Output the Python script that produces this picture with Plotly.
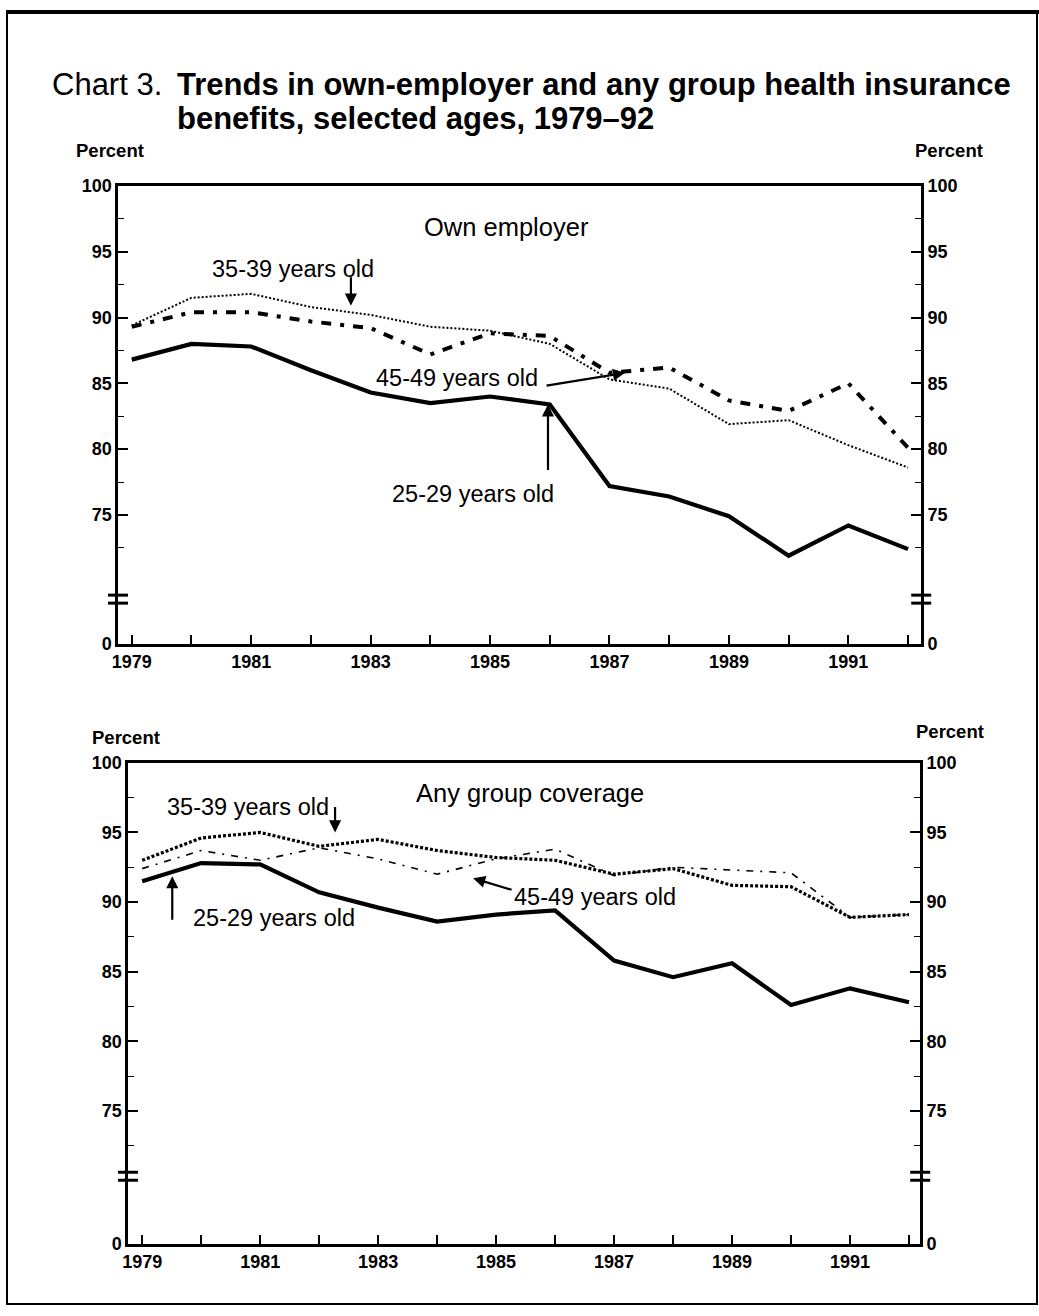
import plotly.graph_objects as go

# ---------------- data ----------------
years = list(range(1979, 1993))
label_years = [1979, 1981, 1983, 1985, 1987, 1989, 1991]
minor_years = [1980, 1982, 1984, 1986, 1988, 1990, 1992]

own_25_29 = [86.8, 88.0, 87.8, 86.0, 84.3, 83.5, 84.0, 83.4, 77.2, 76.4, 74.9, 71.9, 74.2, 72.4]
own_35_39 = [89.4, 91.5, 91.8, 90.8, 90.2, 89.3, 89.0, 88.0, 85.3, 84.6, 81.9, 82.2, 80.3, 78.6]
own_45_49 = [89.3, 90.4, 90.4, 89.7, 89.2, 87.2, 88.8, 88.6, 85.8, 86.2, 83.7, 82.9, 85.0, 80.1]

any_25_29 = [91.5, 92.8, 92.7, 90.7, 89.6, 88.6, 89.1, 89.4, 85.8, 84.6, 85.6, 82.6, 83.8, 82.8]
any_35_39 = [93.0, 94.6, 95.0, 94.0, 94.5, 93.7, 93.2, 93.0, 92.0, 92.4, 91.2, 91.1, 88.9, 89.1]
any_45_49 = [92.4, 93.7, 93.0, 93.9, 93.1, 92.0, 93.1, 93.8, 91.9, 92.5, 92.3, 92.1, 88.9, 89.1]

y_ticks_top = [65.2, 75, 80, 85, 90, 95, 100]
y_ticks_bot = [65.45, 75, 80, 85, 90, 95, 100]
y_ticktext = ["0", "75", "80", "85", "90", "95", "100"]
y_minor = [72.5, 77.5, 82.5, 87.5, 92.5, 97.5]

# ---------------- layout geometry (target picture pixels) ----------------
W, H = 1039, 1316
top_box = dict(l=118, r=921, t=185, b=643, xr=[1978.77, 1992.22], yr=[65.2, 100], brk=68.6)
bot_box = dict(l=128, r=920, t=762, b=1243, xr=[1978.76, 1992.19], yr=[65.45, 100], brk=70.3)

# small correction between page pixels and the photographed picture
SX, OX = 0.994, 6.0
SY, OY = 0.985, 9.0

def px(x):
    return ((x - OX) / SX) / W

def py(y):
    return 1 - ((y - OY) / SY) / H

FONT = "Liberation Sans, Arial, Helvetica, sans-serif"

fig = go.Figure()

def add_lines(xa, ya, s25, s35, s45, top):
    fig.add_trace(go.Scatter(x=years, y=s25, mode="lines", xaxis=xa, yaxis=ya,
                             line=dict(color="black", width=4.2), showlegend=False,
                             hoverinfo="skip"))
    if top:
        fig.add_trace(go.Scatter(x=years, y=s35, mode="lines", xaxis=xa, yaxis=ya,
                                 line=dict(color="black", width=2, dash="2px,2px"),
                                 showlegend=False, hoverinfo="skip"))
        fig.add_trace(go.Scatter(x=years, y=s45, mode="lines", xaxis=xa, yaxis=ya,
                                 line=dict(color="black", width=4, dash="10px,9px,4px,9px"),
                                 showlegend=False, hoverinfo="skip"))
    else:
        fig.add_trace(go.Scatter(x=years, y=s45, mode="lines", xaxis=xa, yaxis=ya,
                                 line=dict(color="black", width=1.6, dash="7px,7px,2px,7px"),
                                 showlegend=False, hoverinfo="skip"))
        fig.add_trace(go.Scatter(x=years, y=s35, mode="lines", xaxis=xa, yaxis=ya,
                                 line=dict(color="black", width=3.2, dash="3px,2px"),
                                 showlegend=False, hoverinfo="skip"))

add_lines("x", "y", own_25_29, own_35_39, own_45_49, True)
add_lines("x2", "y2", any_25_29, any_35_39, any_45_49, False)
# dummy traces so the right-hand axes are drawn
fig.add_trace(go.Scatter(x=[years[0]], y=[None], xaxis="x", yaxis="y3", showlegend=False, hoverinfo="skip"))
fig.add_trace(go.Scatter(x=[years[0]], y=[None], xaxis="x2", yaxis="y4", showlegend=False, hoverinfo="skip"))

tickfont = dict(family=FONT, size=18, color="black", weight="bold")

def xaxis_cfg(box, anchor):
    return dict(domain=[px(box["l"]), px(box["r"])], range=box["xr"], anchor=anchor,
                tickmode="array", tickvals=label_years, ticktext=[str(v) for v in label_years],
                ticks="inside", ticklen=9, tickwidth=1.5, tickcolor="black",
                minor=dict(tickmode="array", tickvals=minor_years, ticks="inside",
                           ticklen=9, tickwidth=1.5, tickcolor="black"),
                showline=True, linewidth=3, linecolor="black", mirror=True,
                showgrid=False, zeroline=False, tickfont=tickfont, fixedrange=True)

def yaxis_cfg(box, anchor, ticks, side="left", overlay=None):
    d = dict(domain=[py(box["b"]), py(box["t"])], range=box["yr"], anchor=anchor,
             tickmode="array", tickvals=ticks, ticktext=y_ticktext, side=side,
             ticks="inside", ticklen=10, tickwidth=1.5, tickcolor="black",
             minor=dict(tickmode="array", tickvals=y_minor, ticks="inside",
                        ticklen=6, tickwidth=1.2, tickcolor="black"),
             showline=True, linewidth=2.5, linecolor="black",
             showgrid=False, zeroline=False, tickfont=tickfont, fixedrange=True)
    if overlay:
        d["overlaying"] = overlay
    return d

fig.update_layout(
    width=W, height=H, autosize=False,
    margin=dict(l=0, r=0, t=0, b=0),
    paper_bgcolor="white", plot_bgcolor="white",
    xaxis=xaxis_cfg(top_box, "y"),
    yaxis=yaxis_cfg(top_box, "x", y_ticks_top),
    yaxis3=yaxis_cfg(top_box, "x", y_ticks_top, side="right", overlay="y"),
    xaxis2=xaxis_cfg(bot_box, "y2"),
    yaxis2=yaxis_cfg(bot_box, "x2", y_ticks_bot),
    yaxis4=yaxis_cfg(bot_box, "x2", y_ticks_bot, side="right", overlay="y2"),
    font=dict(family=FONT, color="black"),
)

# ---------------- axis breaks & frame ----------------
shapes = []
for box in (top_box, bot_box):
    r0, r1 = box["yr"]
    ypix = box["b"] - (box["brk"] - r0) / (r1 - r0) * (box["b"] - box["t"])
    for xpix in (box["l"], box["r"]):
        for dy in (-4, 4):
            shapes.append(dict(type="line", xref="paper", yref="paper",
                               x0=px(xpix - 10), x1=px(xpix + 10),
                               y0=py(ypix + dy), y1=py(ypix + dy),
                               line=dict(color="black", width=3)))
shapes.append(dict(type="rect", xref="paper", yref="paper",
                   x0=1 / W, x1=1 - 2 / W, y0=2 / H, y1=1 - 2 / H,
                   line=dict(color="black", width=2)))
shapes.append(dict(type="line", xref="paper", yref="paper",
                   x0=0, x1=1, y0=1 - 2 / H, y1=1 - 2 / H,
                   line=dict(color="black", width=4)))
fig.update_layout(shapes=shapes)

# ---------------- texts ----------------
ann = []
tfont_r = dict(family=FONT, size=31, color="black")
tfont_b = dict(family=FONT, size=31, color="black", weight="bold")
ann.append(dict(xref="paper", yref="paper", x=px(50), y=py(84), xanchor="left", yanchor="middle",
                text="Chart 3.", showarrow=False, font=tfont_r))
ann.append(dict(xref="paper", yref="paper", x=px(175), y=py(84), xanchor="left", yanchor="middle",
                text="Trends in own-employer and any group health insurance",
                showarrow=False, align="left", font=tfont_b))
ann.append(dict(xref="paper", yref="paper", x=px(175), y=py(118), xanchor="left", yanchor="middle",
                text="benefits, selected ages, 1979–92",
                showarrow=False, align="left", font=tfont_b))

pfont = dict(family=FONT, size=18.5, color="black", weight="bold")
for (xx, yy) in ((110, 150), (949, 150), (126, 737), (950, 731)):
    ann.append(dict(xref="paper", yref="paper", x=px(xx), y=py(yy), text="Percent",
                    showarrow=False, xanchor="center", yanchor="middle", font=pfont))

lfont = dict(family=FONT, size=23.5, color="black")
hfont = dict(family=FONT, size=25.5, color="black")

def txt(xr, yr, x, y, t, f):
    ann.append(dict(xref=xr, yref=yr, x=x, y=y, text=t, showarrow=False,
                    xanchor="center", yanchor="middle", font=f))

def arrow(xr, yr, x, y, ax, ay):
    ann.append(dict(xref=xr, yref=yr, x=x, y=y, text="", showarrow=True,
                    ax=ax, ay=ay, arrowhead=2, arrowsize=1.1, arrowwidth=2.2,
                    arrowcolor="black"))

# top panel
txt("x", "y", 1985.28, 96.9, "Own employer", hfont)
txt("x", "y", 1981.7, 93.7, "35-39 years old", lfont)
arrow("x", "y", 1982.67, 90.9, 0, -30)
txt("x", "y", 1984.45, 85.4, "45-49 years old", lfont)
arrow("x", "y", 1987.26, 85.8, -80, 13)
txt("x", "y", 1984.71, 76.6, "25-29 years old", lfont)
arrow("x", "y", 1985.97, 83.4, 0, 67)

# bottom panel
txt("x2", "y2", 1985.58, 97.85, "Any group coverage", hfont)
txt("x2", "y2", 1980.79, 96.8, "35-39 years old", lfont)
arrow("x2", "y2", 1982.27, 95.0, 0, -27)
txt("x2", "y2", 1981.24, 88.86, "25-29 years old", lfont)
arrow("x2", "y2", 1979.51, 91.86, 0, 45)
txt("x2", "y2", 1986.68, 90.38, "45-49 years old", lfont)
arrow("x2", "y2", 1984.61, 91.71, 40, 12)

fig.update_layout(annotations=ann)

fig.write_html("out.html", config=dict(displayModeBar=False),
               post_script="document.body.style.margin='0';")
